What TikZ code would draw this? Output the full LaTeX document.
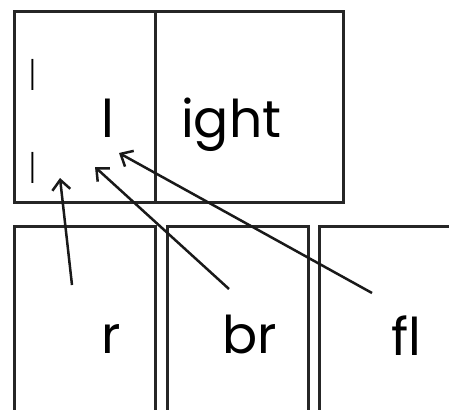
\documentclass[tikz,border=0pt]{standalone}
\usepackage{fontspec}
\setmainfont{Poppins}
\newfontfamily\thinf{Poppins}[UprightFont=* ExtraLight]
\usetikzlibrary{arrows.meta}
\begin{document}
\begin{tikzpicture}[x=1pt,y=-1pt,
  box/.style={draw=black!85,line width=3pt},
  lbl/.style={anchor=base west,inner sep=0pt,font=\fontsize{52}{52}\selectfont},
  slbl/.style={anchor=base west,inner sep=0pt,font=\thinf\fontsize{42}{42}\selectfont},
  arr/.style={draw=black!90,line width=2.5pt,-{Straight Barb[length=10pt,width=18pt,line width=2.5pt]}}]
\useasboundingbox (0,0) rectangle (449,409);
\clip (0,0) rectangle (449,409);
% top boxes
\node[box,anchor=north west,minimum width=141pt,minimum height=191pt,inner sep=0pt] (tl) at (13,10) {};
\node[box,anchor=north west,minimum width=188pt,minimum height=191pt,inner sep=0pt] (tr) at (154,10) {};
% bottom boxes
\node[box,anchor=north west,minimum width=141pt,minimum height=200pt,inner sep=0pt] (b1) at (13,225) {};
\node[box,anchor=north west,minimum width=141pt,minimum height=200pt,inner sep=0pt] (b2) at (166,225) {};
\node[box,anchor=north west,minimum width=150pt,minimum height=200pt,inner sep=0pt] (b3) at (318,225) {};
% white cover of br label
\node[fill=white,anchor=north west,minimum width=78pt,minimum height=104pt,inner sep=0pt] (brbg) at (229,289) {};
% texts
\node[slbl] (l1) at (28,91) {l};
\node[slbl] (l2) at (28,183) {l};
\node[lbl] (lbig) at (101,137) {l};
\node[lbl] (ight) at (181,137) {ight};
\node[lbl] (r) at (101,353) {r};
\node[lbl] (br) at (222,353) {br};
\node[lbl] (fl) at (391,355) {fl};
% arrow ends
\coordinate (rs) at (72,285);
\coordinate (rt) at (60,178);
\coordinate (brs) at (brbg.north west);
\coordinate (brt) at (95,167);
\coordinate (fls) at (372,293);
\coordinate (flt) at (119,153);
\draw[arr] (rs) -- (rt);
\draw[arr] (brs) -- (brt);
\draw[arr] (fls) -- (flt);
\end{tikzpicture}
\end{document}
